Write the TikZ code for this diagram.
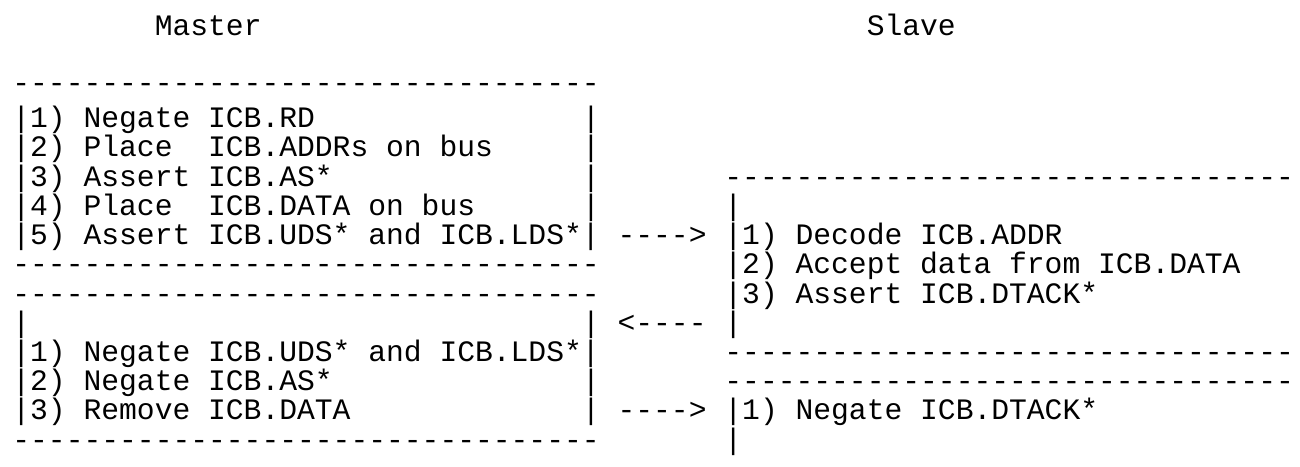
\documentclass[tikz,border=0pt]{standalone}
\usepackage{fontspec}
\newfontfamily\asciifont{Liberation Mono}[Ligatures=TeXOff]
\newcommand{\dashrow}{---------------------------------}
\newcommand{\openrow}{--------------------------------}
\begin{document}
\begin{tikzpicture}[x=8.9pt, y=-14.6pt,
  txt/.style={font=\asciifont\fontsize{14.83}{14.6}\selectfont\frenchspacing,
    inner sep=0pt, anchor=west, text height=9.79pt, text depth=0pt}]

  \useasboundingbox (-0.674,-1.041) rectangle (72.36,14.95);

  % Titres
  \node[txt] (master) at (8,-0.15) {Master};
  \node[txt] (slave) at (48,-0.15) {Slave};

  % Maitre : premier bloc
  \node[txt] (mtop) at (0,1.8) {\dashrow};
  \node[txt] (mstep1) at (0,3) {|1) Negate ICB.RD};
  \node[txt] (mstep2) at (0,4) {|2) Place~~ICB.ADDRs on bus};
  \node[txt] (mstep3) at (0,5) {|3) Assert ICB.AS*};
  \node[txt] (mstep4) at (0,6) {|4) Place~~ICB.DATA on bus};
  \node[txt] (mstep5) at (0,7) {|5) Assert ICB.UDS* and ICB.LDS*|};
  \node[txt] (mbot) at (0,8) {\dashrow};

  % Maitre : second bloc
  \node[txt] (rtop) at (0,9) {\dashrow};
  \node[txt] (rstep0) at (0,10) {|};
  \node[txt] (rstep1) at (0,11) {|1) Negate ICB.UDS* and ICB.LDS*|};
  \node[txt] (rstep2) at (0,12) {|2) Negate ICB.AS*};
  \node[txt] (rstep3) at (0,13) {|3) Remove ICB.DATA};
  \node[txt] (rbot) at (0,14) {\dashrow};

  % Bords droits
  \foreach \r in {3,4,5,6,10,12,13}
    \node[txt] (mbar\r) at (32,\r) {|};

  % Fleches
  \node[txt] (go1) at (34,7) {---->};
  \node[txt] (back) at (34,10) {<----};
  \node[txt] (go2) at (34,13) {---->};

  % Esclave : premier bloc
  \node[txt] (stop) at (40,5) {\openrow};
  \node[txt] (sstep0) at (40,6) {|};
  \node[txt] (sstep1) at (40,7) {|1) Decode ICB.ADDR};
  \node[txt] (sstep2) at (40,8) {|2) Accept data from ICB.DATA};
  \node[txt] (sstep3) at (40,9) {|3) Assert ICB.DTACK*};
  \node[txt] (sstep4) at (40,10) {|};
  \node[txt] (sbot) at (40,11) {\openrow};

  % Esclave : second bloc
  \node[txt] (ntop) at (40,12) {\openrow};
  \node[txt] (nstep1) at (40,13) {|1) Negate ICB.DTACK*};
  \node[txt] (nstep2) at (40,14) {|};

\end{tikzpicture}
\end{document}
